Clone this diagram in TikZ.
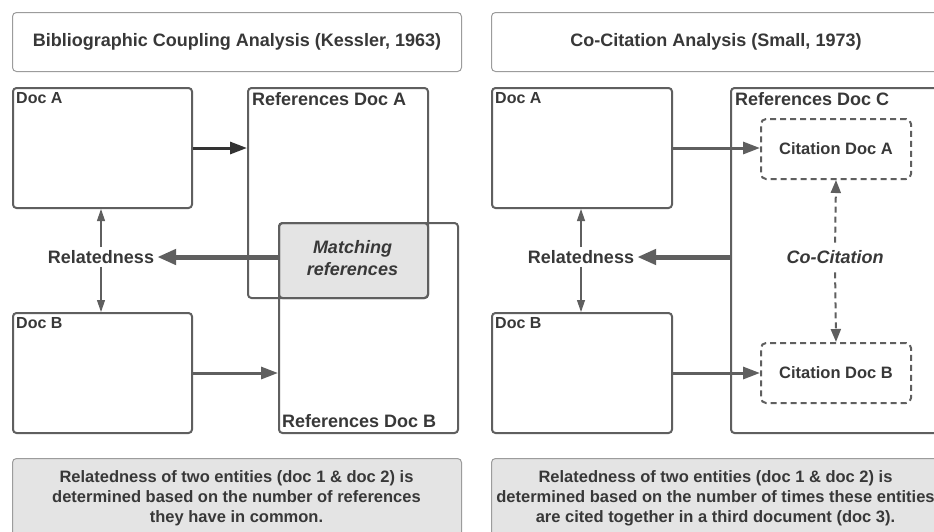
\documentclass[tikz,border=0pt]{standalone}
\usepackage{fontspec}
\setmainfont{Liberation Sans}
\usetikzlibrary{arrows.meta}
\definecolor{txt}{HTML}{383838}
\definecolor{edge}{HTML}{5F5F5F}
\definecolor{darkedge}{HTML}{333333}
\definecolor{lightfill}{HTML}{E4E4E4}
\definecolor{thinedge}{HTML}{9C9C9C}
\tikzset{
  frame/.style={draw=edge, line width=2pt, rounded corners=3.5pt, anchor=north west, inner sep=0pt},
  headbox/.style={draw=thinedge, line width=1pt, rounded corners=4pt, anchor=north west, inner sep=0pt,
    font=\fontsize{18}{22}\selectfont\bfseries},
  notebox/.style={fill=lightfill, draw=thinedge, line width=1pt, rounded corners=4pt, anchor=north west, inner sep=0pt},
  notetext/.style={align=center, anchor=north, inner sep=0pt, font=\fontsize{16.5}{20}\selectfont\bfseries},
  citebox/.style={draw=edge, line width=2pt, dash pattern=on 6pt off 4pt, rounded corners=5pt,
    minimum width=150pt, minimum height=60pt, anchor=north west, inner sep=0pt,
    font=\fontsize{16.5}{20}\selectfont\bfseries},
  doclbl/.style={font=\fontsize{16}{19}\selectfont\bfseries, inner sep=0pt},
  reflbl/.style={font=\fontsize{18}{22}\selectfont\bfseries, inner sep=0pt},
  rellbl/.style={font=\fontsize{18}{22}\selectfont\bfseries, inner sep=3pt},
  itlbl/.style={font=\fontsize{18}{22}\selectfont\bfseries\itshape, inner sep=2pt, align=center},
  midarrow/.style={draw=edge, line width=3pt, -{Triangle[length=17pt,width=12pt]}},
  bigarrow/.style={draw=edge, line width=5pt, -{Triangle[length=19pt,width=15pt]}},
  thinarrow/.style={draw=edge, line width=1.2pt, -{Triangle[length=12pt,width=8pt]}},
  dasharrow/.style={draw=edge, line width=2pt, dash pattern=on 6pt off 4pt, -{Triangle[length=13pt,width=10pt]}},
}
\begin{document}
\begin{tikzpicture}[x=1pt,y=-1pt, every node/.style={text=txt}]
\clip (0,0) rectangle (934,531);
\fill[white] (0,0) rectangle (934,531);

% ---------------- left panel ----------------
\node[headbox, minimum width=449pt, minimum height=59pt] (titleL) at (12,12)
  {Bibliographic Coupling Analysis (Kessler, 1963)};

\node[frame, minimum width=179pt, minimum height=120pt] (docA) at (12,87) {};
\node[doclbl, anchor=north west] (docAl) at (16,92) {Doc A};
\node[frame, minimum width=179pt, minimum height=120pt] (docB) at (12,312) {};
\node[doclbl, anchor=north west] (docBl) at (16,317) {Doc B};

\node[frame, fill=lightfill, minimum width=149pt, minimum height=75pt] (match) at (278,222) {};
\node[frame, minimum width=180pt, minimum height=210pt] (refA) at (247,87) {};
\node[reflbl, anchor=north west] (refAl) at (252,92) {References Doc A};
\node[frame, minimum width=179pt, minimum height=210pt] (refB) at (278,222) {};
\node[reflbl, anchor=south west] (refBl) at (282,428) {References Doc B};
\node[itlbl] (matchl) at (352.5,258) {Matching\\references};

\node[rellbl] (relL) at (101,257) {Relatedness};

\draw[darkedge, line width=3pt, -{Triangle[length=17pt,width=12pt]}] (docA.east) -- (docA.east -| refA.west);
\draw[midarrow] (docB.east) -- (docB.east -| refB.west);
\draw[bigarrow] (relL.east -| match.west) -- (relL.east);
\draw[thinarrow] (relL.north) -- (relL.north |- docA.south);
\draw[thinarrow] (relL.south) -- (relL.south |- docB.north);

\node[notebox, minimum width=449pt, minimum height=90pt] (noteL) at (12,458) {};
\node[notetext] (noteLt) at (236.5,470.5)
  {Relatedness of two entities (doc 1 \& doc 2) is\\determined based on the number of references\\they have in common.};

% ---------------- right panel ----------------
\node[headbox, minimum width=449pt, minimum height=59pt] (titleR) at (491,12)
  {Co-Citation Analysis (Small, 1973)};

\node[frame, minimum width=180pt, minimum height=120pt] (docA2) at (491,87) {};
\node[doclbl, anchor=north west] (docA2l) at (495,92) {Doc A};
\node[frame, minimum width=180pt, minimum height=120pt] (docB2) at (491,312) {};
\node[doclbl, anchor=north west] (docB2l) at (495,317) {Doc B};

\node[frame, minimum width=240pt, minimum height=345pt] (refC) at (730,87) {};
\node[reflbl, anchor=north west] (refCl) at (735,92) {References Doc C};

\node[citebox] (citA) at (760,118) {Citation Doc A};
\node[citebox] (citB) at (760,342) {Citation Doc B};
\node[itlbl] (cocit) at (835,257.5) {Co-Citation};

\node[rellbl] (relR) at (581,257) {Relatedness};

\draw[midarrow] (docA2.east) -- (docA2.east -| citA.west);
\draw[midarrow] (docB2.east) -- (docB2.east -| citB.west);
\draw[bigarrow] (relR.east -| refC.west) -- (relR.east);
\draw[thinarrow] (relR.north) -- (relR.north |- docA2.south);
\draw[thinarrow] (relR.south) -- (relR.south |- docB2.north);
\draw[dasharrow, shorten <=6pt] (cocit.north) -- (citA.south);
\draw[dasharrow, shorten <=6pt] (cocit.south) -- (citB.north);

\node[notebox, minimum width=449pt, minimum height=90pt] (noteR) at (491,458) {};
\node[notetext] (noteRt) at (715.5,470.5)
  {Relatedness of two entities (doc 1 \& doc 2) is\\determined based on the number of times these entities\\are cited together in a third document (doc 3).};
\end{tikzpicture}
\end{document}
